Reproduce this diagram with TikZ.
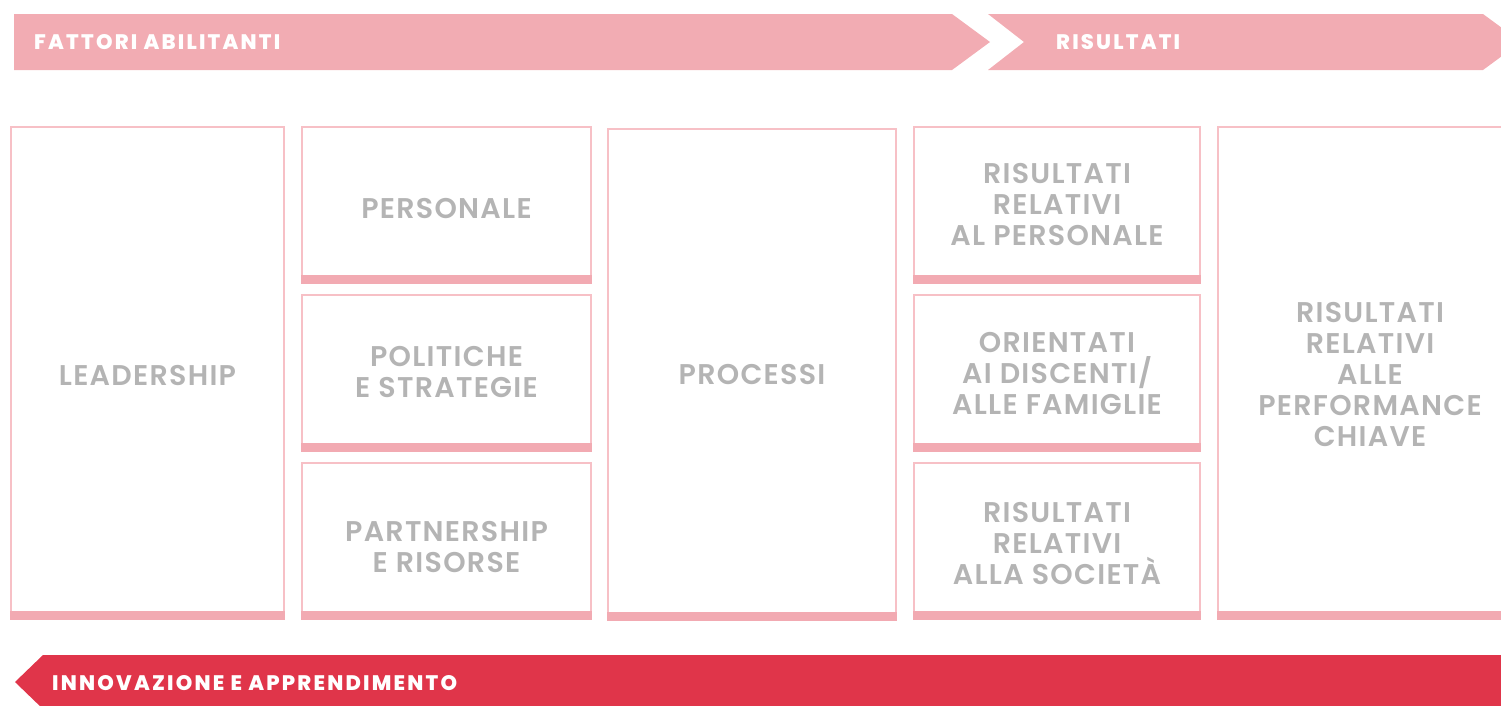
\documentclass[tikz,border=0pt]{standalone}
\usepackage{fontspec}
\setmainfont{Poppins}
\newfontfamily\medfont{Poppins}[UprightFont={* SemiBold}, LetterSpace=4.5]
\newfontfamily\banfont{Poppins}[UprightFont={* ExtraBold}, LetterSpace=10.5]
\definecolor{banner}{HTML}{F2ACB3}
\definecolor{boxline}{HTML}{F7C0C6}
\definecolor{strip}{HTML}{F2AAB2}
\definecolor{deepred}{HTML}{E0354A}
\definecolor{graytext}{HTML}{B4B4B4}
\tikzset{
  panel/.style={draw=boxline, line width=1.4pt, inner sep=0pt, minimum width=#1},
  lbl/.style={text=graytext, align=center, inner sep=0pt, font=\medfont\fontsize{28.5}{31}\selectfont},
  bannertext/.style={text=white, inner sep=0pt, anchor=west, font=\banfont\fontsize{21}{24}\selectfont},
}
\begin{document}
\begin{tikzpicture}[x=1pt,y=-1pt]
\useasboundingbox (0,0) rectangle (1501,705);
\begin{scope}
\clip (0,0) rectangle (1501,705);
% top banners
\fill[banner] (14,14) -- (952,14) -- (990,42) -- (952,70) -- (14,70) -- cycle;
\fill[banner] (988,14) -- (1483,14) -- (1521,42) -- (1483,70) -- (988,70) -- (1024,42) -- cycle;
\node[bannertext] (fa) at (34,42) {FATTORI ABILITANTI};
\node[bannertext] (ri) at (1056,42) {RISULTATI};
% bottom arrow
\fill[deepred] (15,682) -- (43,655) -- (1501,655) -- (1501,709) -- (43,709) -- cycle;
\node[bannertext] (ia) at (52,683) {INNOVAZIONE E APPRENDIMENTO};
% boxes
\node[panel=273pt, minimum height=492pt] (lead) at (147.5,373) {};
\node[panel=289pt, minimum height=156pt] (pers) at (446.5,205) {};
\node[panel=289pt, minimum height=156pt] (pol) at (446.5,373) {};
\node[panel=289pt, minimum height=156pt] (part) at (446.5,541) {};
\node[panel=288pt, minimum height=491pt] (proc) at (752,374.5) {};
\node[panel=286pt, minimum height=156pt] (rpers) at (1057,205) {};
\node[panel=286pt, minimum height=156pt] (orient) at (1057,373) {};
\node[panel=286pt, minimum height=156pt] (soc) at (1057,541) {};
\node[panel=304pt, minimum height=492pt] (kpi) at (1370,373) {};
\foreach \n in {lead,pers,pol,part,proc,rpers,orient,soc,kpi}{
  \fill[strip] (\n.south west) rectangle ([yshift=9pt]\n.south east);
}
% labels
\node[lbl] (t-lead) at (147.5,376) {LEADERSHIP};
\node[lbl] (t-pers) at (446.5,209) {PERSONALE};
\node[lbl] (t-pol) at (446.5,372.5) {POLITICHE\\E STRATEGIE};
\node[lbl] (t-part) at (446.5,546.5) {PARTNERSHIP\\E RISORSE};
\node[lbl] (t-proc) at (752,375) {PROCESSI};
\node[lbl] (t-rpers) at (1057,205) {RISULTATI\\RELATIVI\\AL PERSONALE};
\node[lbl] (t-orient) at (1057,373) {ORIENTATI\\AI DISCENTI/\\ALLE FAMIGLIE};
\node[lbl] (t-soc) at (1057,543) {RISULTATI\\RELATIVI\\ALLA SOCIETÀ};
\node[lbl] (t-kpi) at (1370,374) {RISULTATI\\RELATIVI\\ALLE\\PERFORMANCE\\CHIAVE};
\end{scope}
\end{tikzpicture}
\end{document}
